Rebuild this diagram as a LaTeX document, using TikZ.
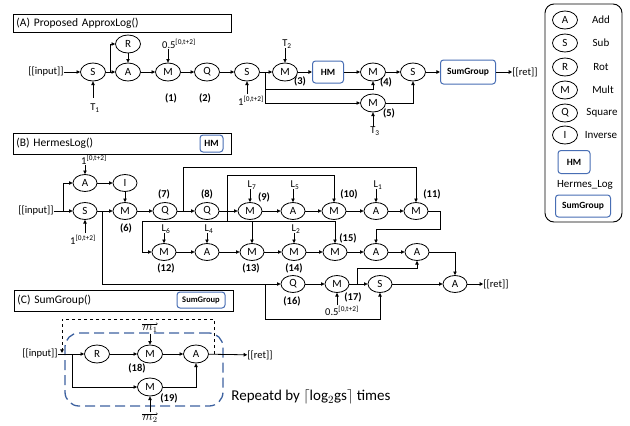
\documentclass[tikz,border=0pt]{standalone}
\usepackage{fontspec}
\setmainfont{Carlito}
\usetikzlibrary{shapes.geometric,arrows.meta}
\definecolor{boxblue}{RGB}{72,110,180}
\definecolor{loopblue}{RGB}{62,98,160}
\begin{document}
\begin{tikzpicture}[x=1pt,y=-1pt,
  every node/.style={font=\fontsize{10.5}{12}\selectfont},
  op/.style={ellipse, draw, line width=0.8pt, minimum width=25pt, minimum height=18pt, inner sep=0pt, font=\fontsize{11}{12}\selectfont},
  opb/.style={op, minimum width=24pt, minimum height=17pt},
  blk/.style={draw=boxblue, line width=1pt, rounded corners=3pt, inner sep=0pt, font=\bfseries\fontsize{9.5}{11}\selectfont},
  arr/.style={line width=0.8pt, -{Triangle[length=3.6pt,width=3.4pt]}},
  ln/.style={line width=0.8pt},
  lbl/.style={inner sep=0pt},
  lgt/.style={inner sep=0pt, font=\fontsize{11}{12}\selectfont},
  num/.style={inner sep=0pt, font=\bfseries\fontsize{10.5}{12}\selectfont},
  vecar/.style={line width=0.4pt, -{To[length=1.8pt,width=2.6pt]}},
  titlebox/.style={draw, line width=0.8pt, anchor=west, text width=#1, align=left, inner xsep=3pt, inner ysep=0pt, font=\fontsize{11.5}{13}\selectfont}
]
\fill[white] (0,0) rectangle (630,426);
\useasboundingbox (0,0) rectangle (630,426);

% ===================== Section A =====================
\node[titlebox=212pt, minimum height=18pt] (titleA) at (13,23) {(A) Proposed ApproxLog()};
\node[lbl] (inA) at (46,72) {[[input]]};
\node[op] (sA1) at (93,72) {S};
\node[op] (rA) at (128,44) {R};
\node[op] (aA) at (128,72) {A};
\node[op] (mA1) at (168,72) {M};
\node[op] (qA2) at (207,72) {Q};
\node[op] (sA2) at (247,72) {S};
\node[op] (mA3) at (285,72) {M};
\node[blk, minimum width=31pt, minimum height=22pt] (hmA) at (328,72) {HM};
\node[op] (mA4) at (373,72) {M};
\node[op] (sA3) at (413,72) {S};
\node[blk, minimum width=55pt, minimum height=24pt] (sgA) at (468,72) {SumGroup};
\node[lbl] (retA) at (525,72) {[[ret]]};
\node[op] (mA5) at (373,103) {M};

\node[lbl] (t1) at (95,108) {T\textsubscript{1}};
\node[lbl, anchor=west] (halfA) at (162,44) {0.5\textsuperscript{[0,t+2]}};
\node[lbl] (oneA) at (251,101) {1\textsuperscript{[0,t+2]}};
\node[lbl] (t2) at (287,44) {T\textsubscript{2}};
\node[lbl] (t3) at (375,131) {T\textsubscript{3}};
\node[num] (n1) at (171,98) {(1)};
\node[num] (n2) at (205,98) {(2)};
\node[num] (n3) at (300,81) {(3)};
\node[num] (n4) at (386,82) {(4)};
\node[num] (n5) at (389,113) {(5)};

\coordinate (t1top) at ([yshift=6pt]t1.north);
\draw[arr] (t1top -| sA1.south) -- (sA1.south);
\draw[arr] (inA) -- (sA1);
\coordinate (jA1) at (110,72);
\draw[arr] (sA1) -- (aA);
\draw[arr] (jA1) |- (rA);
\draw[arr] (rA) -- (aA);
\draw[arr] (aA) -- (mA1);
\draw[arr] (halfA.south -| mA1.north) -- (mA1.north);
\draw[arr] (mA1) -- (qA2);
\draw[arr] (qA2) -- (sA2);
\coordinate (oneAtop) at ([yshift=2pt]oneA.north);
\draw[arr] (oneAtop -| sA2.south) -- (sA2.south);
\draw[arr] (sA2) -- (mA3);
\draw[arr] (t2.south -| mA3.north) -- (mA3.north);
\draw[arr] (mA3) -- (hmA);
\draw[arr] (hmA) -- (mA4);
\draw[arr] (mA4) -- (sA3);
\draw[arr] (sA3) -- (sgA);
\draw[arr] (sgA) -- (retA);
\coordinate (jA2) at (265,72);
\coordinate (cA1) at (265,89);
\draw[arr] (jA2) -- (cA1) -| (mA4.south);
\draw[arr] (cA1) |- (mA5);
\draw[arr] (mA5) -| (sA3);
\draw[arr] (t3.north -| mA5.south) -- (mA5.south);

% ===================== Legend =====================
\node[draw, line width=0.9pt, rounded corners=9pt, minimum width=77pt, minimum height=218pt, inner sep=0pt] (legend) at (583.5,113) {};
\node[op] (lgA) at (565,20) {A};   \node[lgt] (lgAt) at (601,20) {Add};
\node[op] (lgS) at (565,43) {S};   \node[lgt] (lgSt) at (601,43) {Sub};
\node[op] (lgR) at (565,67) {R};   \node[lgt] (lgRt) at (601,67) {Rot};
\node[op] (lgM) at (565,90) {M};   \node[lgt] (lgMt) at (603,90) {Mult};
\node[op] (lgQ) at (565,113) {Q};  \node[lgt] (lgQt) at (602,113) {Square};
\node[op] (lgI) at (565,135) {I};  \node[lgt] (lgIt) at (601,135) {Inverse};
\node[blk, minimum width=32pt, minimum height=23pt] (lgHM) at (574,162) {HM};
\node[lgt] (lgHL) at (585,185) {Hermes\_Log};
\node[blk, minimum width=55pt, minimum height=22pt] (lgSG) at (583,206) {SumGroup};

% ===================== Section B =====================
\node[titlebox=212pt, minimum height=21pt] (titleB) at (13,143.5) {(B) HermesLog()};
\node[blk, minimum width=23pt, minimum height=17pt] (hmB) at (211.5,143.5) {HM};

\node[lbl] (inB) at (36,211) {[[input]]};
\node[opb] (aB1) at (85,183) {A};
\node[opb] (iB) at (125,183) {I};
\node[opb] (sB1) at (85,211) {S};
\node[opb] (m6) at (125,211) {M};
\node[opb] (q7) at (165,211) {Q};
\node[opb] (q8) at (207,211) {Q};
\node[opb] (m9) at (250,211) {M};
\node[opb] (aB2) at (293,211) {A};
\node[opb] (m10) at (334,211) {M};
\node[opb] (aB3) at (376,211) {A};
\node[opb] (m11) at (416,211) {M};
\node[opb] (m12) at (164,252) {M};
\node[opb] (aB4) at (207,252) {A};
\node[opb] (m13) at (252,252) {M};
\node[opb] (m14) at (294,252) {M};
\node[opb] (m15) at (335,252) {M};
\node[opb] (aB5) at (376,252) {A};
\node[opb] (aB6) at (417,252) {A};
\node[opb] (q16) at (293,284) {Q};
\node[opb] (m17) at (337,284) {M};
\node[opb] (sB2) at (380,284) {S};
\node[opb] (aB7) at (455,284) {A};
\node[lbl] (retB) at (496,284) {[[ret]]};

\node[lbl, anchor=west] (oneB1) at (81,160) {1\textsuperscript{[0,t+2]}};
\node[lbl] (oneB2) at (83,240) {1\textsuperscript{[0,t+2]}};
\node[lbl] (l7) at (252,185) {L\textsubscript{7}};
\node[lbl] (l5) at (295,185) {L\textsubscript{5}};
\node[lbl] (l1) at (378,185) {L\textsubscript{1}};
\node[lbl] (l6) at (166,229) {L\textsubscript{6}};
\node[lbl] (l4) at (209,229) {L\textsubscript{4}};
\node[lbl] (l2) at (296,229) {L\textsubscript{2}};
\node[lbl, anchor=west] (halfB) at (325,311) {0.5\textsuperscript{[0,t+2]}};

\node[num] (n6) at (126,228) {(6)};
\node[num] (n7) at (164,194) {(7)};
\node[num] (n8) at (207,194) {(8)};
\node[num] (n9) at (264,197) {(9)};
\node[num] (n10) at (349,194) {(10)};
\node[num] (n11) at (432,194) {(11)};
\node[num] (n12) at (166,268) {(12)};
\node[num] (n13) at (251,268) {(13)};
\node[num] (n14) at (294,268) {(14)};
\node[num] (n15) at (348,238) {(15)};
\node[num] (n16) at (292,301) {(16)};
\node[num] (n17) at (353,297) {(17)};

\coordinate (jB0) at (63,211);
\draw[arr] (inB) -- (sB1);
\draw[arr] (jB0) |- (aB1);
\draw[arr] (oneB1.south -| aB1.north) -- (aB1.north);
\coordinate (oneB2top) at ([yshift=2pt]oneB2.north);
\draw[arr] (oneB2top -| sB1.south) -- (sB1.south);
\draw[arr] (aB1) -- (iB);
\draw[arr] (iB) -- (m6);
\draw[arr] (sB1) -- (m6);
\draw[arr] (m6) -- (q7);
\draw[arr] (q7) -- (q8);
\draw[arr] (q8) -- (m9);
\draw[arr] (m9) -- (aB2);
\draw[arr] (aB2) -- (m10);
\draw[arr] (m10) -- (aB3);
\draw[arr] (aB3) -- (m11);
\draw[arr] (l7.south -| m9.north) -- (m9.north);
\draw[arr] (l5.south -| aB2.north) -- (aB2.north);
\draw[arr] (l1.south -| aB3.north) -- (aB3.north);

\coordinate (jB1) at (183,211);
\coordinate (cB1) at (183,167);
\draw[arr] (jB1) -- (cB1) -| (m11.north);
\coordinate (jB2) at (227,211);
\coordinate (cB2) at (227,175);
\draw[arr] (jB2) -- (cB2) -| (m10.north);
\coordinate (cB3) at (227,221);
\coordinate (cB4) at (142,221);
\draw[ln] (jB2) -- (cB3);
\draw[arr] (cB3) -- (cB4) |- (m12);
\draw[arr] (cB3) -| (m13.north);
\draw[arr] (cB3) -| (m15.north);

\draw[arr] (m12) -- (aB4);
\draw[arr] (aB4) -- (m13);
\draw[arr] (m13) -- (m14);
\draw[arr] (m14) -- (m15);
\draw[arr] (m15) -- (aB5);
\draw[arr] (aB5) -- (aB6);
\draw[arr] (l6.south -| m12.north) -- (m12.north);
\draw[arr] (l4.south -| aB4.north) -- (aB4.north);
\draw[arr] (l2.south -| m14.north) -- (m14.north);

\coordinate (cB5) at (440,229);
\draw[arr] (m11) -| (cB5) -| (aB5.north);
\draw[arr] (aB6) -| (aB7);

\coordinate (jB3) at (102,211);
\draw[arr] (jB3) |- (q16);
\coordinate (jB4) at (265,284);
\coordinate (cB6) at (265,319);
\draw[arr] (jB4) -- (cB6) -| (sB2.south);
\draw[arr] (q16) -- (m17);
\draw[arr] (m17) -- (sB2);
\coordinate (oneHBtop) at ([yshift=1pt]halfB.north);
\draw[arr] (oneHBtop -| m17.south) -- (m17.south);
\coordinate (jB5) at (357,284);
\coordinate (cB7) at (357,268);
\draw[arr] (jB5) -- (cB7) -| (aB6.south);
\draw[arr] (sB2) -- (aB7);
\draw[arr] (aB7) -- (retB);

% ===================== Section C =====================
\node[titlebox=213pt, minimum height=21pt] (titleC) at (14,300.5) {(C) SumGroup()};
\node[blk, minimum width=48pt, minimum height=16pt, font=\bfseries\fontsize{8.5}{10}\selectfont] (sgC) at (201,300) {SumGroup};

\node[draw=loopblue, dash pattern=on 10pt off 5pt, line width=1.3pt, rounded corners=14pt, minimum width=158pt, minimum height=73pt, inner sep=0pt] (loopC) at (144,369.5) {};

\node[lbl] (inC) at (40,354) {[[input]]};
\node[op] (rC) at (97,354) {R};
\node[op] (m18) at (150,354) {M};
\node[op] (aC) at (196,354) {A};
\node[lbl] (retC) at (260,355) {[[ret]]};
\node[op] (m19) at (150,387) {M};
\node[lbl, font=\fontsize{12}{13}\selectfont] (m1v) at (150,329) {$m_1$};
\node[lbl, font=\fontsize{12}{13}\selectfont] (m2v) at (150,419) {$m_2$};
\draw[vecar] ([yshift=1.5pt]m1v.north west) -- ([yshift=1.5pt]m1v.north east);
\draw[vecar] ([yshift=1.5pt]m2v.north west) -- ([yshift=1.5pt]m2v.north east);
\node[num] (n18) at (137,368) {(18)};
\node[num] (n19) at (169,398) {(19)};
\node[lbl, font=\fontsize{15}{17}\selectfont] (rep) at (311,397) {Repeatd by $\lceil\mathrm{log}_2\mathrm{gs}\rceil$ times};

\coordinate (jC) at (72,354);
\draw[arr] (inC) -- (rC);
\draw[arr] (rC) -- (m18);
\draw[arr] (m18) -- (aC);
\draw[arr] (aC) -- (retC);
\draw[arr] (jC) |- (m19);
\draw[arr] (m19) -| (aC);
\coordinate (m1vtop) at ([yshift=-1pt]m1v.south);
\draw[arr] (m1vtop -| m18.north) -- (m18.north);
\coordinate (m2vtop) at ([yshift=3pt]m2v.north);
\draw[arr] (m2vtop -| m19.south) -- (m19.south);

\coordinate (dC1) at (214,354);
\coordinate (dC2) at (214,319);
\coordinate (dC3) at (62,319);
\coordinate (dC4) at (62,353);
\draw[arr, dashed] (dC1) -- (dC2) -- (dC3) -- (dC4);

\end{tikzpicture}
\end{document}
